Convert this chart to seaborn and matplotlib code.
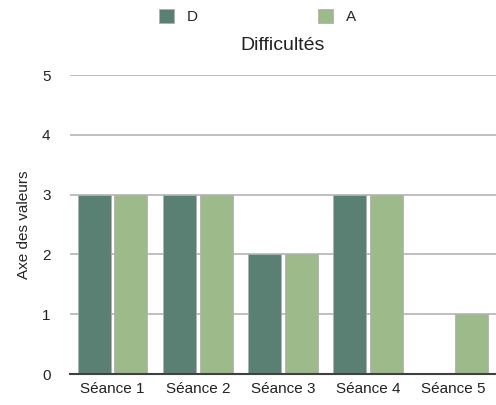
import matplotlib
matplotlib.use("Agg")
import matplotlib.pyplot as plt
import seaborn as sns
import pandas as pd

categories = ["Séance 1", "Séance 2", "Séance 3", "Séance 4", "Séance 5"]
series_names = ["D", "A"]
d_values = [3, 3, 2, 3, 0]
a_values = [3, 3, 2, 3, 1]
colors = ["#5a8074", "#9dba8b"]

df = pd.DataFrame({
    "cat": categories * 2,
    "serie": ["D"] * 5 + ["A"] * 5,
    "val": d_values + a_values,
})

sns.set_theme(style="white")
plt.rcParams["font.family"] = ["Liberation Sans", "DejaVu Sans"]

fig = plt.figure(figsize=(4.96, 4.05), dpi=100)
ax = fig.add_axes([0.141, 0.0765, 0.859, 0.738])
sns.barplot(data=df, x="cat", y="val", hue="serie", hue_order=series_names,
            palette=colors, width=0.86, gap=0.1, ax=ax, legend=True,
            edgecolor="#b0b0b0", linewidth=0.6, saturation=1)
ax.set_xlim(-0.5, 4.5)
ax.set_ylim(0, 5)
ax.set_yticks([0, 1, 2, 3, 4, 5])
ax.set_axisbelow(True)
ax.yaxis.grid(True, color="#b4b4b4", linewidth=1.2)
for s in ["top", "right", "left"]:
    ax.spines[s].set_visible(False)
ax.spines["bottom"].set_color("#404040")
ax.spines["bottom"].set_linewidth(1.5)
ax.tick_params(axis="y", length=0, pad=14, labelsize=11, labelcolor="#222222")
ax.tick_params(axis="x", length=0, pad=6, labelsize=11, labelcolor="#222222")
ax.set_xlabel("")
ax.set_ylabel("Axe des valeurs", fontsize=11, color="#222222", labelpad=8)
fig.text(283 / 496, 1 - 45 / 405, "Difficultés", fontsize=14, color="#222222",
         ha="center", va="center")
h, l = ax.get_legend_handles_labels()
ax.get_legend().remove()
fig.legend(h, l, loc="upper left", bbox_to_anchor=(159 / 496, 1 - 9 / 405),
           ncol=2, frameon=False, fontsize=11, handlelength=1.0, handleheight=1.0,
           columnspacing=7.9, handletextpad=0.8, borderpad=0, borderaxespad=0)
fig.savefig("out.png", dpi=100)
